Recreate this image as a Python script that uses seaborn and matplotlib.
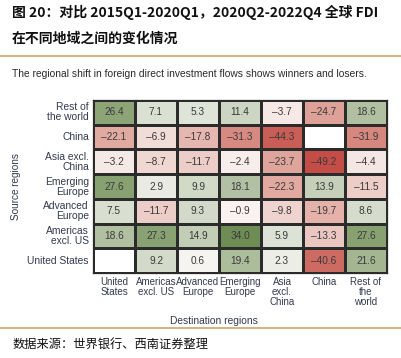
import numpy as np
import pandas as pd
import matplotlib
matplotlib.use("Agg")
import matplotlib.pyplot as plt
import seaborn as sns
from matplotlib.colors import LinearSegmentedColormap
from matplotlib.lines import Line2D

# source regions (rows) and destination regions (columns)
sources = ["Rest of\nthe world", "China", "Asia excl.\nChina", "Emerging\nEurope",
           "Advanced\nEurope", "Americas\nexcl. US", "United States"]
destinations = ["United\nStates", "Americas\nexcl. US", "Advanced\nEurope", "Emerging\nEurope",
                "Asia\nexcl.\nChina", "China", "Rest of\nthe\nworld"]

rest_of_world = [26.4, 7.1, 5.3, 11.4, -3.7, -24.7, 18.6]
china = [-22.1, -6.9, -17.8, -31.3, -44.3, np.nan, -31.9]
asia_ex_china = [-3.2, -8.7, -11.7, -2.4, -23.7, -49.2, -4.4]
emerging_europe = [27.6, 2.9, 9.9, 18.1, -22.3, 13.9, -11.5]
advanced_europe = [7.5, -11.7, 9.3, -0.9, -9.8, -19.7, 8.6]
americas_ex_us = [18.6, 27.3, 14.9, 34.0, 5.9, -13.3, 27.6]
united_states = [np.nan, 9.2, 0.6, 19.4, 2.3, -40.6, 21.6]

df = pd.DataFrame([rest_of_world, china, asia_ex_china, emerging_europe,
                   advanced_europe, americas_ex_us, united_states],
                  index=sources, columns=destinations)

# labels with a proper dash for negatives, empty where no data
annot = df.map(lambda v: "" if pd.isna(v) else f"{v:.1f}".replace("-", "\u2013"))

vmin, vmax = -50, 35
nodes = [(-50, "#c34b45"), (-25, "#dea096"), (-5, "#f3e3df"), (0, "#faf6f4"),
         (4, "#e3e7dd"), (15, "#c2cdb5"), (27, "#8aa374"), (35, "#6a8a50")]
cmap = LinearSegmentedColormap.from_list(
    "fdi", [((v - vmin) / (vmax - vmin), c) for v, c in nodes])

fig = plt.figure(figsize=(4.01, 3.58), dpi=100)
ax = fig.add_axes([0.232, 0.237, 0.733, 0.484])

lab_col = "#333a4d"
sns.heatmap(df, ax=ax, cmap=cmap, vmin=vmin, vmax=vmax, annot=annot, fmt="",
            cbar=False, linewidths=0.9, linecolor="#2b2b2b",
            annot_kws={"fontsize": 7.3, "color": "#3a3a3a", "family": "Liberation Sans"})
ax.patch.set_facecolor("white")
for s in ax.spines.values():
    s.set_visible(True)
    s.set_color("#2b2b2b")
    s.set_linewidth(0.9)

ax.tick_params(length=0, pad=3)
ax.xaxis.tick_bottom()
ax.set_xticklabels(ax.get_xticklabels(), rotation=0, fontsize=7.0, color=lab_col,
                   family="Liberation Sans", linespacing=1.0, va="top")
ax.set_yticklabels(ax.get_yticklabels(), rotation=0, fontsize=7.4, color=lab_col,
                   family="Liberation Sans", linespacing=1.0, ha="right")
ax.set_xlabel("Destination regions", fontsize=7.4, color=lab_col,
              family="Liberation Sans", labelpad=2)
ax.xaxis.set_label_coords(0.41, -0.25)
ax.set_ylabel("Source regions", fontsize=7.2, color=lab_col, family="Liberation Sans")
ax.yaxis.set_label_coords(-0.245, 0.5)

cjk = ["Noto Sans CJK SC", "DejaVu Sans"]
fig.text(0.03, 0.965, "图 20：对比 2015Q1-2020Q1，2020Q2-2022Q4 全球 FDI",
         fontsize=10, fontweight="bold", family=cjk, va="center", color="#111111")
fig.text(0.03, 0.893, "在不同地域之间的变化情况",
         fontsize=10, fontweight="bold", family=cjk, va="center", color="#111111")
fig.add_artist(Line2D([0.0, 1.0], [0.843, 0.843], color="#d2a36b", lw=1.2))
fig.text(0.03, 0.793,
         "The regional shift in foreign direct investment flows shows winners and losers.",
         fontsize=7.4, family="Liberation Sans", va="center", color="#2a2a2a")
fig.add_artist(Line2D([0.0, 1.0], [0.085, 0.085], color="#d2a36b", lw=1.2))
fig.text(0.03, 0.038, "数据来源：世界银行、西南证券整理", fontsize=8.8, style="italic",
         family=cjk, va="center", color="#111111")

fig.savefig("out.png", dpi=100)
